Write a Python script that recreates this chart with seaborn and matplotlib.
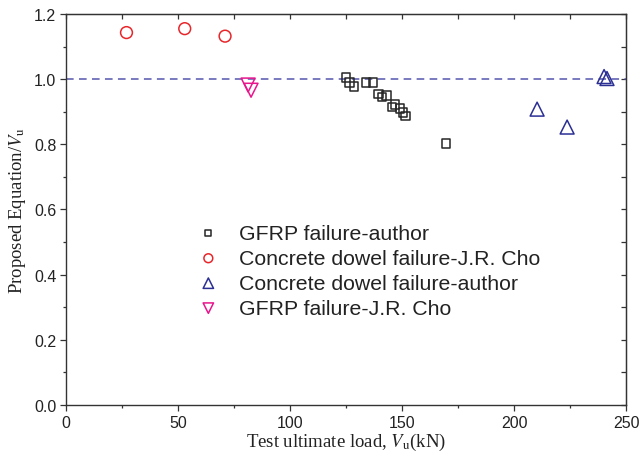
import matplotlib
matplotlib.use("Agg")
import matplotlib.pyplot as plt
import seaborn as sns
import pandas as pd
from matplotlib.ticker import MultipleLocator

sns.set_style("ticks")
plt.rcParams["font.family"] = ["Liberation Sans", "DejaVu Sans"]
plt.rcParams["mathtext.fontset"] = "stix"

# Test ultimate load (kN) and ratio of proposed equation to test value
gfrp_author_x = [125.0, 126.5, 128.5, 134.0, 137.0, 139.5, 141.0, 143.0,
                 145.5, 147.0, 149.0, 150.5, 151.5, 169.5]
gfrp_author_y = [1.005, 0.990, 0.977, 0.990, 0.990, 0.955, 0.945, 0.950,
                 0.915, 0.922, 0.910, 0.898, 0.887, 0.803]

dowel_cho_x = [27.0, 53.0, 71.0]
dowel_cho_y = [1.143, 1.155, 1.132]

dowel_author_x = [210.3, 223.7, 240.2, 241.5]
dowel_author_y = [0.908, 0.853, 1.008, 1.002]

gfrp_cho_x = [81.3, 82.6]
gfrp_cho_y = [0.982, 0.966]

labels = ["GFRP failure-author", "Concrete dowel failure-J.R. Cho",
          "Concrete dowel failure-author", "GFRP failure-J.R. Cho"]

series = [
    (gfrp_author_x, gfrp_author_y, labels[0], "s", "#262626", 36),
    (dowel_cho_x, dowel_cho_y, labels[1], "o", "#e8262a", 72),
    (dowel_author_x, dowel_author_y, labels[2], "^", "#2b2f94", 100),
    (gfrp_cho_x, gfrp_cho_y, labels[3], "v", "#e8158c", 100),
]

fig = plt.figure(figsize=(6.39, 4.60), dpi=100)
ax = fig.add_axes([0.1033, 0.1174, 0.8764, 0.85])

ax.axhline(1.0, color="#5555ad", lw=1.1, ls=(0, (5, 3.5)), zorder=1)

for xs, ys, lab, mk, col, s in series:
    df = pd.DataFrame({"load": xs, "ratio": ys})
    sns.scatterplot(data=df, x="load", y="ratio", ax=ax, marker=mk, s=s,
                    facecolors="none", edgecolors=col, linewidths=1.1,
                    label=lab, zorder=3)

ax.set_xlim(0, 250)
ax.set_ylim(0, 1.2)
ax.xaxis.set_major_locator(MultipleLocator(50))
ax.xaxis.set_minor_locator(MultipleLocator(25))
ax.yaxis.set_major_locator(MultipleLocator(0.2))
ax.yaxis.set_minor_locator(MultipleLocator(0.1))
ax.yaxis.set_major_formatter(plt.FuncFormatter(lambda v, p: f"{v:.1f}"))

for side in ["left", "right", "top", "bottom"]:
    ax.spines[side].set_visible(True)
    ax.spines[side].set_linewidth(1.0)
    ax.spines[side].set_color("#333333")

ax.tick_params(axis="both", which="major", length=4.5, width=0.9,
               color="#333333", labelsize=11.5, labelcolor="#222222", pad=2.5)
ax.tick_params(axis="both", which="minor", length=2.5, width=0.9,
               color="#333333")
ax.tick_params(axis="both", which="both", direction="out",
               top=False, right=False)

# mirrored inward ticks on the top and right
tx = ax.secondary_xaxis("top")
tx.xaxis.set_major_locator(MultipleLocator(50))
tx.xaxis.set_minor_locator(MultipleLocator(25))
tx.tick_params(which="both", direction="in", labeltop=False, length=3.5,
               width=0.9, color="#333333")
ty = ax.secondary_yaxis("right")
ty.yaxis.set_major_locator(MultipleLocator(0.2))
ty.yaxis.set_minor_locator(MultipleLocator(0.1))
ty.tick_params(which="both", direction="in", labelright=False, length=3.5,
               width=0.9, color="#333333")

ax.set_xlabel(r"Test ultimate load, $V_{\mathrm{u}}$(kN)",
              family="Liberation Serif", fontsize=13.5, color="#222222",
              labelpad=1)
ax.set_ylabel(r"Proposed Equation/$V_{\mathrm{u}}$",
              family="Liberation Serif", fontsize=13.5, color="#222222",
              labelpad=4)

leg = ax.legend(loc="upper left", bbox_to_anchor=(0.22, 0.485), frameon=False,
                fontsize=15.3, markerscale=0.75, handlelength=1.0,
                handletextpad=0.92, labelspacing=0.28, borderaxespad=0)
for t in leg.get_texts():
    t.set_color("#222222")

fig.savefig("out.png", dpi=100)
